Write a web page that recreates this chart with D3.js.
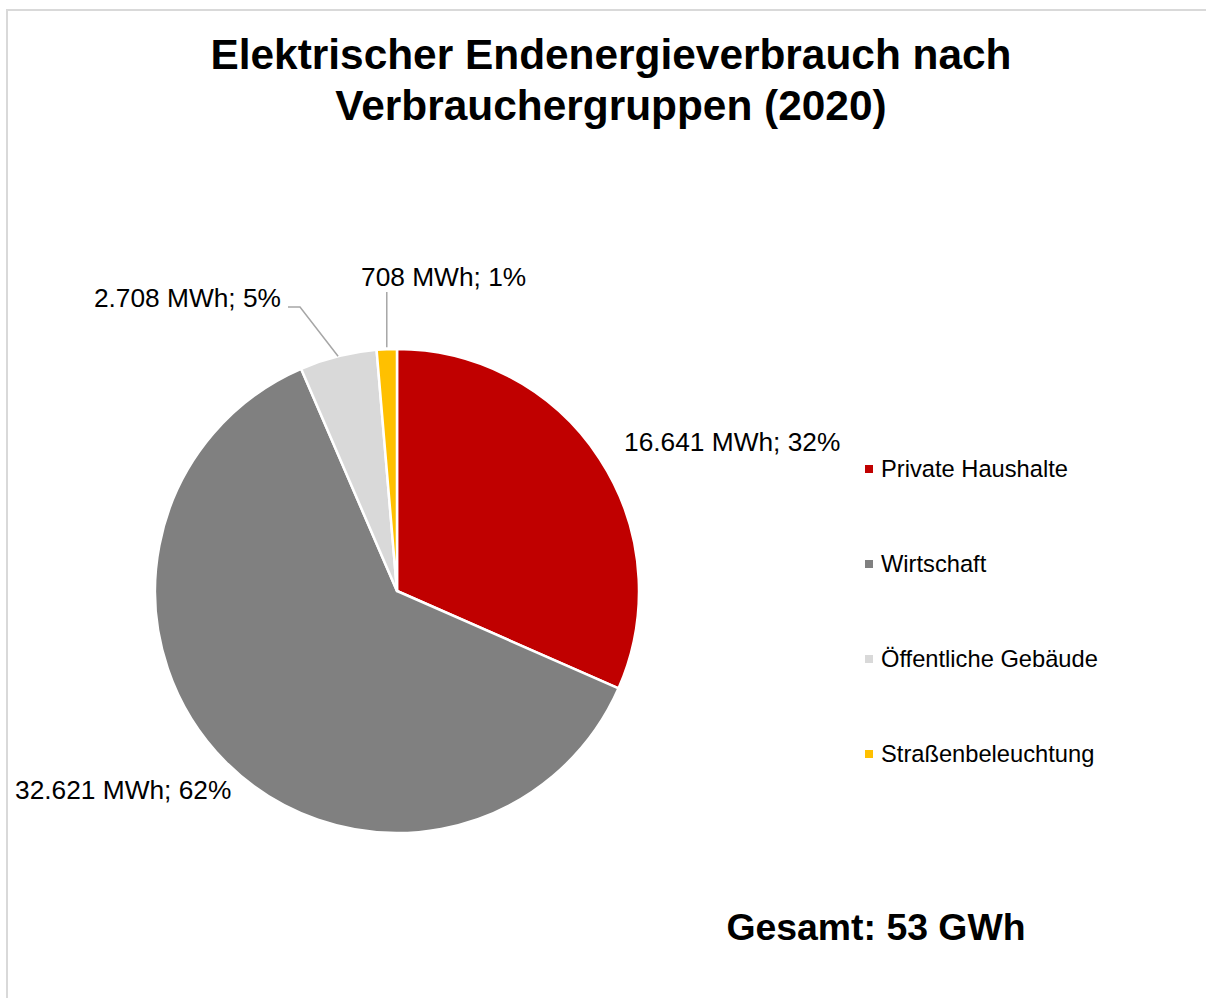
<!DOCTYPE html>
<html><head><meta charset="utf-8">
<script src="https://cdn.jsdelivr.net/npm/d3@7"></script>
<style>html,body{margin:0;padding:0;background:#fff;}svg{display:block;font-family:Arial,"Liberation Sans",Helvetica,sans-serif;}</style>
</head><body>
<svg id="c" width="1206" height="998"></svg>
<script>
const categories = ["Private Haushalte", "Wirtschaft", "Öffentliche Gebäude", "Straßenbeleuchtung"];
const values = [16641, 32621, 2708, 708];
const labels = ["16.641 MWh; 32%", "32.621 MWh; 62%", "2.708 MWh; 5%", "708 MWh; 1%"];
const colors = ["#C00000", "#808080", "#D9D9D9", "#FFC000"];
const titleLines = ["Elektrischer Endenergieverbrauch nach", "Verbrauchergruppen (2020)"];
const totalLabel = "Gesamt: 53 GWh";

const svg = d3.select("#c");
// chart border (extends beyond right/bottom edges)
svg.append("rect").attr("x", 7).attr("y", 10).attr("width", 1220).attr("height", 1010)
  .attr("fill", "#fff").attr("stroke", "#d9d9d9").attr("stroke-width", 2);

svg.selectAll("text.title").data(titleLines).enter().append("text")
  .attr("x", 611).attr("y", (d, i) => 69 + i * 51)
  .attr("text-anchor", "middle").attr("font-size", 42.4).attr("font-weight", "bold").attr("fill", "#000")
  .text(d => d);

const cx = 397, cy = 591, r = 242;
const pie = d3.pie().sort(null).value(d => d)(values);
const arc = d3.arc().innerRadius(0).outerRadius(r);
const g = svg.append("g").attr("transform", `translate(${cx},${cy})`);
g.selectAll("path").data(pie).enter().append("path")
  .attr("d", arc).attr("fill", (d, i) => colors[i])
  .attr("stroke", "#fff").attr("stroke-width", 2.5).attr("stroke-linejoin", "round");

// leader lines
const leader = svg.append("g").attr("fill", "none").attr("stroke", "#a6a6a6").attr("stroke-width", 1.5);
const p5 = d3.arc().innerRadius(r).outerRadius(r).centroid(pie[2]);
leader.append("polyline").attr("points", [[288, 307], [300, 307], [cx + p5[0], cy + p5[1]]].map(p => p.join(",")).join(" "));
const p1 = d3.arc().innerRadius(r).outerRadius(r).centroid(pie[3]);
leader.append("polyline").attr("points", [[cx + p1[0], 292], [cx + p1[0], cy + p1[1] - 2]].map(p => p.join(",")).join(" "));

const labelPos = [[624, 451, "start"], [15, 799, "start"], [281, 307, "end"], [361, 286, "start"]];
svg.selectAll("text.lbl").data(labels).enter().append("text")
  .attr("x", (d, i) => labelPos[i][0]).attr("y", (d, i) => labelPos[i][1])
  .attr("text-anchor", (d, i) => labelPos[i][2])
  .attr("font-size", 26.3).attr("fill", "#000").text(d => d);

// legend
const lg = svg.append("g");
const rowY = d3.scalePoint().domain(categories).range([469, 754]);
categories.forEach((c, i) => {
  lg.append("rect").attr("x", 865).attr("y", rowY(c) - 4).attr("width", 8).attr("height", 8).attr("fill", colors[i]);
  lg.append("text").attr("x", 881).attr("y", rowY(c) + 8).attr("font-size", 23.7).attr("fill", "#000").text(c);
});

svg.append("text").attr("x", 876).attr("y", 940).attr("text-anchor", "middle")
  .attr("font-size", 37.4).attr("font-weight", "bold").attr("fill", "#000").text(totalLabel);
</script>
</body></html>
